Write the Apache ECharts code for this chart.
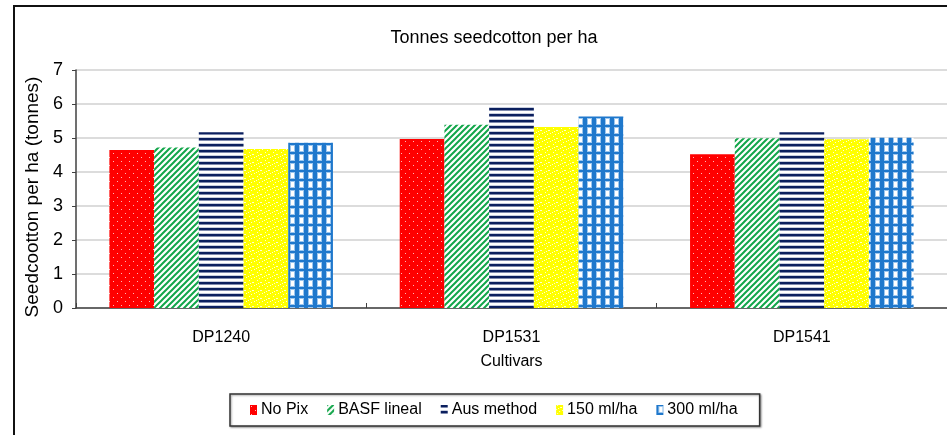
<!DOCTYPE html>
<html>
<head>
<meta charset="utf-8">
<script src="https://cdn.jsdelivr.net/npm/echarts@6/dist/echarts.min.js"></script>
<style>
html,body{margin:0;padding:0;background:#fff;}
#chart{width:947px;height:435px;}
</style>
</head>
<body>
<div id="chart"></div>
<script>
// ---- data ----
var categories = ['DP1240', 'DP1531', 'DP1541'];
var seriesNames = ['No Pix', 'BASF lineal', 'Aus method', '150 ml/ha', '300 ml/ha'];
var noPix      = [4.65, 4.97, 4.52];
var basfLineal = [4.72, 5.39, 4.99];
var ausMethod  = [5.17, 5.94, 5.17];
var ml150      = [4.68, 5.32, 4.96];
var ml300      = [4.86, 5.63, 5.01];
var yTicks = [0, 1, 2, 3, 4, 5, 6, 7];

// ---- patterns ----
function tile(w, h, draw) {
  var c = document.createElement('canvas');
  c.width = w; c.height = h;
  var g = c.getContext('2d');
  draw(g, w, h);
  return { image: c, repeat: 'repeat' };
}
var redPat = tile(8, 8, function (g, w, h) {
  g.fillStyle = '#ff0000'; g.fillRect(0, 0, w, h);
  g.fillStyle = '#ffb8b8';
  g.fillRect(1, 1, 1, 1); g.fillRect(5, 5, 1, 1);
});
var greenPat = tile(6, 6, function (g, w, h) {
  g.fillStyle = '#ffffff'; g.fillRect(0, 0, w, h);
  g.strokeStyle = '#12a64a'; g.lineWidth = 2;
  g.beginPath();
  g.moveTo(-1, 7); g.lineTo(7, -1);
  g.moveTo(-4, 4); g.lineTo(4, -4);
  g.moveTo(2, 10); g.lineTo(10, 2);
  g.stroke();
});
var navyPat = tile(6, 6, function (g, w, h) {
  g.fillStyle = '#ffffff'; g.fillRect(0, 0, w, h);
  g.fillStyle = '#0b1f5e'; g.fillRect(0, 0, w, 2);
  g.fillStyle = '#7f8aae'; g.fillRect(0, 2, w, 1);
  g.fillStyle = '#c8cede'; g.fillRect(0, 5, w, 1);
});
var yellowPat = tile(8, 8, function (g, w, h) {
  g.fillStyle = '#ffff00'; g.fillRect(0, 0, w, h);
  g.fillStyle = '#ffffd0';
  g.fillRect(1, 0, 1, 1); g.fillRect(4, 2, 2, 1); g.fillRect(0, 4, 1, 1);
  g.fillRect(6, 5, 1, 1); g.fillRect(3, 6, 1, 1); g.fillRect(2, 3, 1, 1);
});
var bluePat = tile(9, 9, function (g, w, h) {
  g.fillStyle = '#1f78cc'; g.fillRect(0, 0, w, h);
  g.fillStyle = '#9cc6ee'; g.fillRect(2, 1, 5, 7);
  g.fillStyle = '#ffffff'; g.fillRect(3, 2, 3, 5);
});

var values = [noPix, basfLineal, ausMethod, ml150, ml300];
var pats = [redPat, greenPat, navyPat, yellowPat, bluePat];

var font = "'Liberation Sans', Arial, sans-serif";

var series = seriesNames.map(function (n, i) {
  return {
    name: n,
    type: 'bar',
    data: values[i],
    barGap: '0%',
    barCategoryGap: '23%',
    itemStyle: { color: pats[i] },
    emphasis: { disabled: true }
  };
});

var chart = echarts.init(document.getElementById('chart'));
chart.setOption({
  animation: false,
  backgroundColor: '#ffffff',
  title: {
    text: 'Tonnes seedcotton per ha',
    left: 489, top: 24, textAlign: 'center',
    textStyle: { fontFamily: font, fontSize: 18, fontWeight: 'normal', color: '#000' }
  },
  legend: {
    data: seriesNames,
    left: 230, top: 394,
    orient: 'horizontal',
    itemWidth: 7, itemHeight: 10, itemGap: 19,
    padding: [8, 22, 8, 20],
    borderColor: '#333', borderWidth: 1.5,
    shadowColor: 'rgba(0,0,0,0.35)', shadowBlur: 2, shadowOffsetX: 1, shadowOffsetY: 1,
    backgroundColor: '#fff',
    icon: 'rect',
    textStyle: { fontFamily: font, fontSize: 16, color: '#000', padding: [0, 0, 0, -1] }
  },
  grid: { left: 76, right: 0, top: 70, bottom: 127, containLabel: false },
  xAxis: {
    type: 'category',
    data: categories,
    name: 'Cultivars',
    nameLocation: 'middle',
    nameGap: 46,
    nameTextStyle: { fontFamily: font, fontSize: 16, color: '#000' },
    axisLine: { lineStyle: { color: '#404040', width: 1.5 } },
    axisTick: { show: true, inside: true, length: 5, lineStyle: { color: '#404040' } },
    axisLabel: { fontFamily: font, fontSize: 16, color: '#000', margin: 22 }
  },
  yAxis: {
    type: 'value',
    min: yTicks[0], max: yTicks[yTicks.length - 1], interval: 1,
    name: 'Seedcootton per ha (tonnes)',
    nameLocation: 'middle',
    nameGap: 26,
    nameTextStyle: { fontFamily: font, fontSize: 19, color: '#000', padding: [0, 16, 0, 0] },
    axisLine: { show: true, lineStyle: { color: '#404040', width: 1.5 } },
    axisTick: { show: true, length: 4, lineStyle: { color: '#404040' } },
    axisLabel: { fontFamily: font, fontSize: 18, color: '#000', margin: 13 },
    splitLine: { lineStyle: { color: '#dcdcdc', width: 2 } }
  },
  graphic: [{
    type: 'polyline',
    shape: { points: [[14, 440], [14, 6], [950, 6]] },
    style: { stroke: '#111', lineWidth: 2, fill: null },
    silent: true
  }],
  series: series
});
</script>
</body>
</html>
